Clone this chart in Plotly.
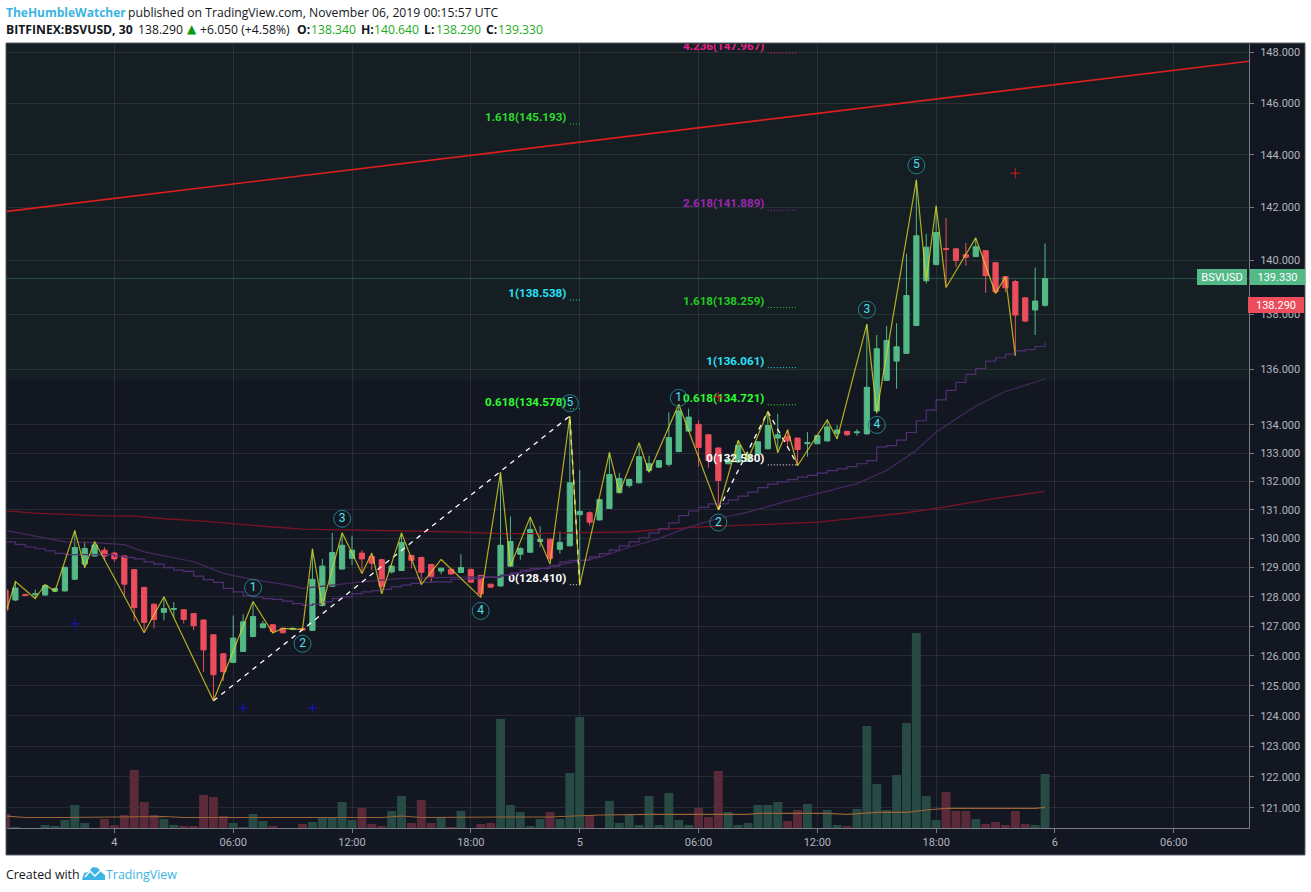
import math
import plotly.graph_objects as go

W, H = 1311, 892

# ---- candles (bar index = 30 minute bars) ----
bar_open = [128.23,127.89,128.08,128.07,128.06,128.19,128.20,128.60,129.12,129.40,
129.60,129.50,129.40,128.93,128.32,127.75,127.47,127.57,127.56,127.43,
127.21,126.71,126.07,125.78,126.15,126.65,126.95,127.05,126.93,126.89,
126.92,126.86,127.70,128.36,128.95,129.32,129.50,129.38,129.27,128.85,
128.90,129.42,129.35,129.11,128.88,128.94,128.83,128.94,128.73,128.43,
128.37,129.05,129.46,129.53,129.90,129.98,129.63,129.75,130.83,130.90,
130.65,131.05,131.60,131.85,131.95,132.38,132.50,132.60,133.05,133.78,
134.02,133.65,133.18,132.62,132.68,132.70,132.95,133.15,133.53,133.60,
133.53,133.33,133.33,133.43,133.70,133.77,133.72,133.68,134.50,135.60,
136.30,136.58,137.60,139.25,139.85,140.45,140.44,140.22,140.15,140.37,
139.92,139.40,139.22,138.62,138.17,138.34]
bar_high = [128.25,128.52,128.10,128.25,128.42,128.32,129.03,130.28,129.90,129.90,
129.70,129.55,129.42,128.95,128.34,127.77,128.00,127.82,127.58,127.45,
127.23,126.73,126.09,127.36,127.40,127.83,127.18,127.07,126.95,126.95,
126.94,129.65,129.30,130.20,130.20,130.10,129.60,129.48,129.30,129.12,
130.20,129.44,129.37,129.13,129.00,128.96,129.46,128.96,128.75,128.45,
132.32,130.77,129.70,130.75,130.43,130.00,130.25,134.32,132.40,130.95,
131.38,133.02,132.30,132.10,133.35,132.90,132.75,134.45,134.74,134.58,
134.17,133.67,133.20,132.80,133.45,132.98,133.42,134.48,134.40,133.83,
133.55,133.75,133.64,134.18,134.00,133.79,133.85,137.65,137.25,137.58,
137.68,140.25,143.05,141.00,142.06,141.60,140.46,140.66,140.85,140.39,
139.94,139.42,139.28,138.64,139.74,140.64]
bar_low = [127.43,127.85,128.03,127.94,128.04,128.17,128.18,128.58,129.00,129.38,
129.25,129.20,128.05,127.17,126.78,126.92,127.20,127.30,127.09,126.87,
125.46,124.50,125.16,125.76,126.13,126.63,126.93,126.78,126.76,126.87,
126.85,126.84,127.68,128.34,128.93,129.08,128.80,128.90,128.10,128.80,
128.88,128.97,128.40,128.50,128.77,128.76,128.81,128.48,127.98,128.31,
128.35,129.03,129.27,129.51,129.70,129.25,129.48,129.73,128.45,130.45,
130.63,131.03,131.58,131.78,131.93,132.32,132.48,132.52,133.03,133.76,
132.52,132.48,131.00,132.60,132.66,132.68,132.93,133.13,133.00,133.20,
132.55,132.87,133.31,133.41,133.50,133.60,133.62,133.66,134.40,135.58,
135.30,136.56,137.58,139.15,139.83,139.00,139.76,139.80,140.13,138.80,
138.78,138.82,136.50,137.72,137.25,138.29]
bar_close = [127.55,128.30,128.05,128.10,128.38,128.28,129.01,129.69,129.66,129.78,
129.40,129.30,128.43,127.63,127.13,127.23,127.60,127.60,127.23,127.02,
126.20,125.37,125.47,126.60,127.15,127.33,127.08,126.82,126.78,126.93,
126.87,128.60,129.05,129.52,129.77,129.60,129.30,129.15,128.36,129.05,
129.87,129.25,128.84,128.70,128.98,128.78,129.00,128.50,128.10,128.33,
129.77,129.90,129.66,130.32,129.97,129.32,129.87,131.95,130.95,130.57,
131.36,132.24,132.10,132.07,132.87,132.62,132.73,133.55,134.50,134.28,
133.20,132.73,132.03,132.77,133.27,132.95,133.40,133.98,133.65,133.43,
133.12,133.37,133.62,133.93,133.82,133.65,133.75,135.35,136.75,137.05,
136.82,138.70,140.93,140.50,141.05,140.42,140.00,140.12,140.52,139.44,
138.84,138.99,137.98,137.76,138.50,139.33]

# ---- volume ----
volume = [14,1,0,0,3,2,8,23,5,0,9,3,13,58,26,13,9,3,2,2,33,31,12,5,1,14,7,2,0,0,
4,6,11,11,26,8,20,4,2,17,32,5,28,5,11,1,17,0,4,5,109,23,16,2,9,16,9,55,111,13,
0,27,5,13,3,32,3,35,8,3,20,11,57,16,3,5,23,23,26,7,18,24,0,18,3,2,19,102,44,18,
53,105,195,32,8,36,17,17,9,4,6,3,17,4,3,54]
vol_ma_x = [0,2,6,12,16,18,30,38,40,42,50,55,60,65,75,76,83,85,88,91,93,95,104,105]
vol_ma_y = [12,10.5,10.5,11.5,11.5,10.5,10.5,10.5,12,10.5,11,11,13,13.7,13.7,14.7,14.7,13.7,15.7,15.7,18,19.7,19.7,20.7]

# ---- stepped purple line, one value per bar ----
step_line = [129.89,129.80,129.71,129.65,129.58,129.49,129.45,129.45,129.45,129.45,
129.45,129.39,129.35,129.30,129.20,129.12,129.00,128.91,128.87,128.71,
128.59,128.49,128.29,128.17,128.03,128.00,127.94,127.91,127.85,127.77,
127.71,127.75,127.83,127.94,128.00,128.11,128.17,128.21,128.25,128.34,
128.40,128.46,128.49,128.51,128.51,128.60,128.60,128.62,128.66,128.66,
128.74,128.82,128.91,128.97,128.97,129.05,129.20,129.25,129.25,129.37,
129.48,129.60,129.75,129.89,130.03,130.20,130.35,130.55,130.80,130.96,
131.09,131.21,131.21,131.35,131.48,131.62,131.78,131.90,131.98,132.06,
132.15,132.21,132.29,132.38,132.44,132.52,132.62,132.73,133.22,133.26,
133.46,133.73,134.15,134.53,134.90,135.24,135.53,135.82,136.03,136.30,
136.42,136.55,136.67,136.72,136.83,136.98]

# ---- smooth purple average ----
smooth_x = [0,3,6,9,12,14,19,22,25,29,30,33,36,40,44,50,53,56,60,63,66,69,72,75,78,82,86,89,92,94,98,101,105]
smooth_y = [130.29,130.10,129.89,129.86,129.79,129.54,129.20,128.80,128.59,128.37,128.29,128.40,128.51,128.63,128.66,
128.70,128.89,129.10,129.35,129.70,130.00,130.40,130.70,130.92,131.22,131.58,131.92,132.38,133.10,133.75,134.68,135.20,135.65]

# ---- dark red average ----
slow_x = [0,3,6,9,13,16,20,23,26,30,33,38,44,46,50,54,58,63,66,70,73,78,82,87,91,94,100,105]
slow_y = [130.97,130.89,130.84,130.80,130.78,130.69,130.61,130.51,130.43,130.33,130.31,130.29,130.23,130.23,
130.17,130.17,130.21,130.23,130.31,130.40,130.44,130.52,130.57,130.75,130.90,131.05,131.40,131.65]

# ---- yellow zigzag pivots ----
zig_x = [0,1,3,4,5,7,8,9,14,16,21,25,27,28,30,31,32,34,36,37,38,40,42,44,48,50,51,53,55,57,58,61,62,64,65,68,72,74,75,77,78,79,80,83,84,87,88,92,93,94,95,98,100,101,102]
zig_y = [127.43,128.52,127.94,128.42,128.19,130.28,129.00,129.90,126.78,128.00,124.50,127.84,126.77,126.93,126.89,129.65,127.70,130.20,128.80,129.50,128.10,130.20,128.42,129.28,127.98,132.32,129.05,130.75,129.12,134.32,128.40,133.02,131.60,133.37,132.32,134.74,131.00,133.45,132.78,134.48,133.02,133.83,132.55,134.18,133.50,137.65,134.45,143.05,139.25,142.06,139.00,140.85,138.78,139.40,136.50]

# ---- white dashed wave legs ----
wave_a_x, wave_a_y = [21,57,58], [124.50,134.32,128.41]
wave_b_x, wave_b_y = [72,77,80], [131.00,134.48,132.58]

# ---- red channel line ----
trend_x = [0.15,125.6]
trend_y = [141.85,147.64]

# ---- wave counts ----
count_x = [25,30,34,48,57,68,72,87,88,92]
count_y = [128.31,126.41,130.69,127.52,134.78,134.97,130.56,138.18,134.00,143.60]
count_txt = ["1","2","3","4","5","1","2","3","4","5"]

# ---- small cross marks ----
blue_x, blue_y = [7,24,31], [127.08,124.27,124.27]
red_x, red_y = [72,102], [135.00,143.30]

# ---- fib levels ----
fib_labels = ["4.236","1.618","2.618","1","1.618","1","0.618","0.618","0","0"]
fib_prices = [147.967,145.193,141.889,138.538,138.259,136.061,134.578,134.721,132.580,128.410]
fib_start  = [77,57,77,57,77,77,57,77,77,57]
fib_end    = [80,58,80,58,80,80,58,80,80,58]
fib_colors = ["#e91e8c","#2ddc2d","#9c27b0","#29e3f5","#22cc22","#29e3f5","#2dff2d","#2dff2d","#ffffff","#ffffff"]

# ---- axis labels ----
y_ticks = [148,146,144,142,140,138,136,134,133,132,131,130,129,128,127,126,125,124,123,122,121]
x_ticks = [11,23,35,47,58,70,82,94,106,118]
x_labels = ["4","06:00","12:00","18:00","5","06:00","12:00","18:00","6","06:00"]

UP, DOWN = "#53b987", "#eb4d5c"
BG = "#131722"
FONT = "Open Sans"
AXF = "Roboto"

def px(x): return x / W
def py(y): return 1 - y / H

fig = go.Figure()

def line(x, y, color, width=1, dash=None, shape="linear", yaxis="y"):
    fig.add_trace(go.Scatter(x=x, y=y, mode="lines", yaxis=yaxis,
                             line=dict(color=color, width=width, dash=dash, shape=shape),
                             hoverinfo="skip", showlegend=False))

# fib labels and dotted levels sit under the candles
for s, e, p, c in zip(fib_start, fib_end, fib_prices, fib_colors):
    line([s, e], [p, p], c, 1, "1px,2px")
fig.add_trace(go.Scatter(x=[s - 0.35 for s in fib_start], y=fib_prices, mode="text",
                         text=[f"{a}({b:.3f})" for a, b in zip(fib_labels, fib_prices)],
                         textposition="top left", cliponaxis=True,
                         textfont=dict(family=AXF, size=11.6, color=fib_colors, weight="bold"),
                         hoverinfo="skip", showlegend=False))

line(slow_x, slow_y, "#7a1422", 1.3)
line(smooth_x, smooth_y, "#46295f", 1.2)
line(list(range(len(step_line))), step_line, "#4f2f70", 1.2, shape="hv")
line([0.15, 125.6], [bar_close[-1], bar_close[-1]], "rgba(83,185,135,0.35)", 1)

fig.add_trace(go.Candlestick(x=list(range(len(bar_open))), open=bar_open, high=bar_high,
                             low=bar_low, close=bar_close, whiskerwidth=0,
                             increasing=dict(line=dict(color=UP, width=1), fillcolor=UP),
                             decreasing=dict(line=dict(color=DOWN, width=1), fillcolor=DOWN),
                             hoverinfo="skip", showlegend=False))

line(trend_x, trend_y, "#dc1e1e", 1.7)
line(wave_a_x, wave_a_y, "#ffffff", 1.3, "5px,5px")
line(wave_b_x, wave_b_y, "#ffffff", 1.3, "5px,5px")
line(zig_x, zig_y, "rgba(225,215,30,0.78)", 1.2)

for xs, ys, c in ((blue_x, blue_y, "#1414c8"), (red_x, red_y, "#e01414")):
    fig.add_trace(go.Scatter(x=xs, y=ys, mode="markers",
                             marker=dict(symbol="cross-thin", size=7, line=dict(color=c, width=1)),
                             hoverinfo="skip", showlegend=False))

fig.add_trace(go.Scatter(x=count_x, y=count_y, mode="markers+text", text=count_txt,
                         textposition="middle center",
                         textfont=dict(family=AXF, size=12, color="#4fe0ee"),
                         marker=dict(symbol="circle", size=17, color="rgba(0,0,0,0)",
                                     line=dict(color="#23808c", width=1)),
                         hoverinfo="skip", showlegend=False))

fig.add_trace(go.Bar(x=list(range(len(volume))), y=volume, yaxis="y2", width=0.9,
                     marker=dict(color=["#274a44" if c >= o else "#5a2a38"
                                        for o, c in zip(bar_open, bar_close)], line=dict(width=0)),
                     hoverinfo="skip", showlegend=False))
line(vol_ma_x, vol_ma_y, "#9a6436", 1.2, yaxis="y2")

def txt(x, y, t, color="#131722", bold=False, size=12.2, family=FONT, **kw):
    return dict(xref="paper", yref="paper", x=px(x), y=py(y), text=f"<b>{t}</b>" if bold else t,
                showarrow=False, xanchor=kw.pop("xanchor", "left"), yanchor="middle",
                borderpad=0, borderwidth=0,
                font=dict(family=family, size=size, color=color), **kw)

BLUE = "#3bb3e4"
GREEN = "#22ab22"
annotations = [
    txt(6, 12, "TheHumbleWatcher", BLUE, bold=True, size=12),
    txt(128, 12, "published on TradingView.com, November 06, 2019 00:15:57 UTC"),
    txt(6, 29, "BITFINEX:BSVUSD, 30", bold=True),
    txt(138, 29, "138.290"),
    txt(187, 29, "▲", "#0a9a0a", size=12, family="DejaVu Sans"),
    txt(200, 29, "+6.050 (+4.58%)"),
    txt(297, 29, "O:", bold=True), txt(311, 29, "138.340", GREEN),
    txt(361, 29, "H:", bold=True), txt(374, 29, "140.640", GREEN),
    txt(424, 29, "L:", bold=True), txt(436, 29, "138.290", GREEN),
    txt(486, 29, "C:", bold=True), txt(498, 29, "139.330", GREEN),
    txt(6, 874, "Created with", size=12.4),
    txt(106, 874, "TradingView", BLUE, size=12.4),
    txt(1222, 277, "BSVUSD", "#ffffff", size=11, family=AXF, xanchor="center",
        bgcolor=UP, width=50, height=16, align="center"),
    txt(1277, 277, "139.330", "#ffffff", size=11, family=AXF, xanchor="center",
        bgcolor=UP, width=55, height=16, align="center"),
    txt(1276, 305, "138.290", "#ffffff", size=11, family=AXF, xanchor="center",
        bgcolor=DOWN, width=56, height=16, align="center"),
]

def rect(x0, y0, x1, y1, fill, line_color=None):
    return dict(type="rect", xref="paper", yref="paper", x0=px(x0), x1=px(x1), y0=py(y0), y1=py(y1),
                fillcolor=fill, line=dict(color=line_color or fill, width=1 if line_color else 0),
                layer="below")

def path(points, fill, line_color=None, width=0):
    d = "M " + " L ".join(f"{px(a):.5f},{py(b):.5f}" for a, b in points) + (" Z" if fill else "")
    return dict(type="path", xref="paper", yref="paper", path=d,
                fillcolor=fill or "rgba(0,0,0,0)",
                line=dict(color=line_color or "rgba(0,0,0,0)", width=width))

shapes = [
    rect(6, 43, 1305, 855, BG, "#5d606b"),
    rect(7, 44, 1249, 380, "#141e23"),
    # TradingView logo
    path([(82,880),(84,873),(88,872),(93,867),(98,868),(101,872),(105,875),(105,880)], "#3bb3e4"),
    path([(85,877),(90,871),(95,876),(100,871)], None, "#ffffff", 1.5),
]

tickfont = dict(family=AXF, size=11, color="#b2b5be")
fig.update_layout(
    width=W, height=H, margin=dict(l=0, r=0, t=0, b=0), autosize=False,
    paper_bgcolor="#ffffff", plot_bgcolor="rgba(0,0,0,0)", showlegend=False,
    shapes=shapes, annotations=annotations, hovermode=False, boxgap=0.25,
    xaxis=dict(domain=[px(7), px(1249)], range=[0.15, 125.6], type="linear",
               rangeslider=dict(visible=False), tickmode="array", tickvals=x_ticks, ticktext=x_labels,
               tickfont=tickfont, showgrid=True, gridcolor="rgba(240,243,250,0.09)", gridwidth=1,
               zeroline=False, showline=True, linecolor="#787b86", linewidth=1,
               ticks="outside", ticklen=4, tickcolor="#787b86", anchor="y"),
    yaxis=dict(domain=[py(828), py(44)], type="log",
               range=[math.log10(120.35), math.log10(148.32)],
               side="right", tickmode="array", tickvals=y_ticks,
               ticktext=[f"{v:.3f}" for v in y_ticks], tickfont=tickfont,
               showgrid=True, gridcolor="rgba(240,243,250,0.09)", gridwidth=1, zeroline=False,
               showline=True, linecolor="#787b86", linewidth=1, ticks="outside", ticklen=4,
               tickcolor="#787b86", ticklabelstandoff=4),
    yaxis2=dict(overlaying="y", range=[0, 784], visible=False, showgrid=False, zeroline=False),
)

fig.write_html("out.html", config=dict(displayModeBar=False),
               post_script="document.body.style.margin='0';")
